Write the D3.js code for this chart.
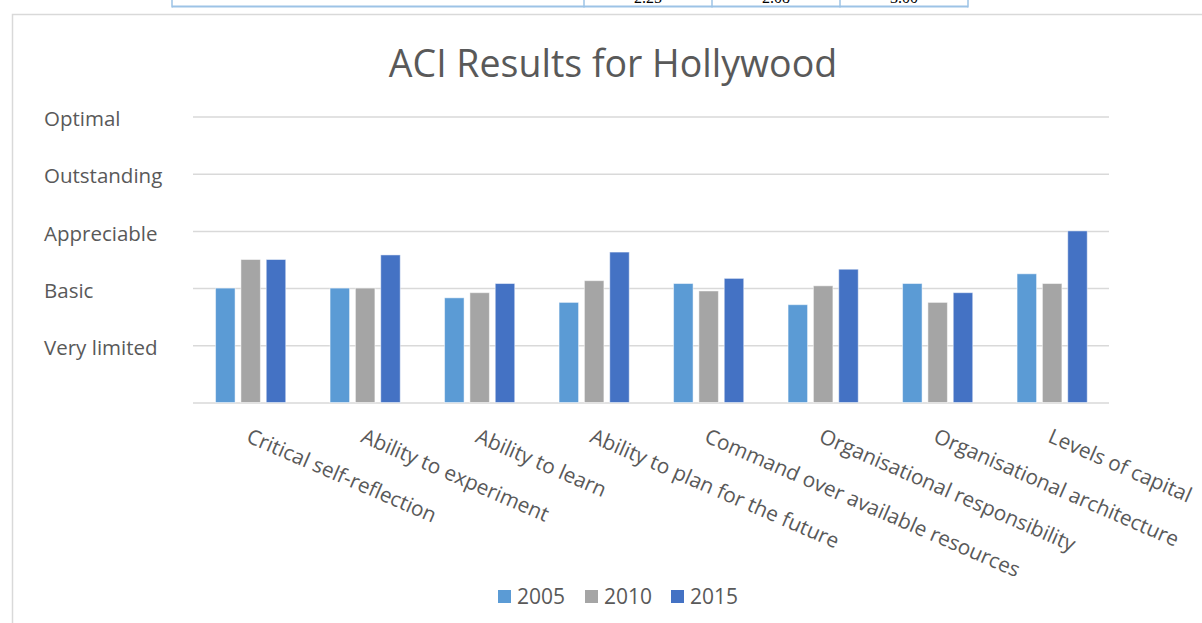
<!DOCTYPE html>
<html><head><meta charset="utf-8">
<script src="https://cdn.jsdelivr.net/npm/d3@7"></script>
<style>
html,body{margin:0;padding:0;background:#fff;}
svg{display:block;}
text{font-family:"Open Sans",sans-serif;}
</style></head>
<body>
<script>
const categories = ["Critical self-reflection","Ability to experiment","Ability to learn","Ability to plan for the future","Command over available resources","Organisational responsibility","Organisational architecture","Levels of capital"];
const seriesNames = ["2005","2010","2015"];
const values2005 = [2.00, 2.00, 1.83, 1.75, 2.08, 1.71, 2.08, 2.25];
const values2010 = [2.50, 2.00, 1.92, 2.13, 1.95, 2.04, 1.75, 2.08];
const values2015 = [2.50, 2.58, 2.08, 2.63, 2.17, 2.33, 1.92, 3.00];
const yTickLabels = ["", "Very limited", "Basic", "Appreciable", "Outstanding", "Optimal"];
const colors = ["#5B9BD5", "#A5A5A5", "#4472C4"];
const chartTitle = "ACI Results for Hollywood";

(function(){
const W = 1202, H = 623;
const svg = d3.select("body").append("svg").attr("width", W).attr("height", H);

// top table fragment (from the page above the chart)
const tbl = svg.append("g");
const tblColor = "#9DC3E6";
const tblX = [172, 584, 712, 840, 968];
tbl.append("line").attr("x1",172).attr("x2",968).attr("y1",6.5).attr("y2",6.5).attr("stroke",tblColor).attr("stroke-width",2);
tblX.forEach(x => tbl.append("line").attr("x1",x).attr("x2",x).attr("y1",-2).attr("y2",7.5).attr("stroke",tblColor).attr("stroke-width",1.5));
const lastIdx = categories.length - 1;
const tableRow = [values2005[lastIdx], values2010[lastIdx], values2015[lastIdx]];
tableRow.forEach((v,i) => {
  tbl.append("text").attr("x",(tblX[i+1]+tblX[i+2])/2).attr("y",3).attr("text-anchor","middle")
    .style("font-family","'Liberation Serif',serif").style("font-size","16px").attr("fill","#000")
    .text(v.toFixed(2));
});

// chart frame
svg.append("path").attr("d","M12.5,700 L12.5,14.5 L1300,14.5").attr("fill","none").attr("stroke","#D9D9D9").attr("stroke-width",1.5);

const pLeft = 193, pRight = 1109, pTop = 116.5, pBottom = 402.5;
const x0 = d3.scaleBand().domain(categories).range([pLeft, pRight]);
const bw = x0.bandwidth();
const x1 = d3.scaleBand().domain(seriesNames).range([bw*0.197, bw*0.81]).paddingInner(0.23);
const y = d3.scaleLinear().domain([0, 5]).range([pBottom, pTop]);
const color = d3.scaleOrdinal().domain(seriesNames).range(colors);

// title
svg.append("text").attr("x", 613).attr("y", 77).attr("text-anchor","middle")
  .style("font-size","37.5px").attr("fill","#595959").text(chartTitle);

// y axis gridlines and labels
const yAxis = d3.axisLeft(y).tickValues(d3.range(0,6)).tickSize(-(pRight-pLeft))
  .tickFormat(d => yTickLabels[d]);
const gy = svg.append("g").attr("transform",`translate(${pLeft},0)`).call(yAxis);
gy.select(".domain").remove();
gy.selectAll(".tick line").attr("stroke","#D9D9D9").attr("stroke-width",1.5);
gy.selectAll(".tick text").attr("x", 44-pLeft).attr("text-anchor","start").attr("dy","0.45em")
  .style("font-size","20.5px").attr("fill","#595959").style("font-family","'Open Sans',sans-serif");

// bars
const data = categories.map((c,i) => ({cat:c, vals:[values2005[i], values2010[i], values2015[i]]}));
const groups = svg.append("g").selectAll("g").data(data).join("g")
  .attr("transform", d => `translate(${x0(d.cat)},0)`);
groups.selectAll("rect").data(d => d.vals.map((v,j) => ({s:seriesNames[j], v})))
  .join("rect")
  .attr("x", d => x1(d.s)).attr("width", x1.bandwidth())
  .attr("y", d => y(d.v)).attr("height", d => y(0) - y(d.v))
  .attr("fill", d => color(d.s))
  .attr("stroke","#ffffff").attr("stroke-opacity",0.5).attr("stroke-width",1);

// x axis labels
const xAxis = d3.axisBottom(x0).tickSize(0);
const gx = svg.append("g").attr("transform",`translate(0,${pBottom})`).call(xAxis);
gx.select(".domain").remove();
gx.selectAll(".tick text").attr("text-anchor","start").attr("y",0).attr("x",0).attr("dy",0)
  .attr("transform","translate(-5,39) rotate(23.5)")
  .style("font-size","20.8px").attr("fill","#595959").style("font-family","'Open Sans',sans-serif");

// legend
const legendX = [498, 585, 671];
const lg = svg.append("g").selectAll("g").data(seriesNames).join("g")
  .attr("transform",(d,i) => `translate(${legendX[i]},590)`);
lg.append("rect").attr("width",13).attr("height",13).attr("fill", d => color(d));
lg.append("text").attr("x",19).attr("y",13.5).style("font-size","21px").attr("fill","#595959").text(d => d);
})();
</script>
</body></html>
